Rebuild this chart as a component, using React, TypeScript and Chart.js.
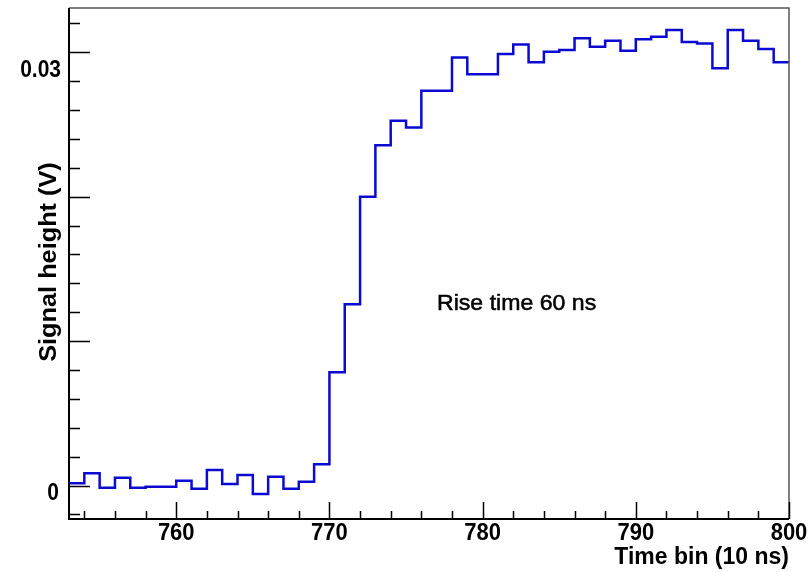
import React, { useEffect, useRef } from "react";
import { Chart, registerables } from "chart.js";

Chart.register(...registerables);

// Histogram: bin lower edges start at 753, width 1 (10 ns bins)
const binStart = 753;
const signal = [
  0.00015, 0.00084, -0.00015, 0.00054, -0.00015, -0.00008, -0.00008, 0.00033,
  -0.00022, 0.00107, 0.0001, 0.00073, -0.00059, 0.00061, -0.00022, 0.00026,
  0.00147, 0.00784, 0.01255, 0.02, 0.02357, 0.02526, 0.02479, 0.02734,
  0.02734, 0.02965, 0.02848, 0.02848, 0.02988, 0.03055, 0.02931, 0.03004,
  0.03016, 0.03097, 0.03039, 0.0308, 0.03011, 0.0309, 0.03108, 0.03154,
  0.03071, 0.03062, 0.02889, 0.03154, 0.0308, 0.03023, 0.02931,
];
const xMajorTicks = [760, 770, 780, 790, 800];
const yLabelValues = [0, 0.03];
const yLabelTexts = ["0", "0.03"];
const xTitle = "Time bin (10 ns)";
const yTitle = "Signal height (V)";
const annotation = "Rise time 60 ns";

const FONT = '"Liberation Sans", Arial, Helvetica, sans-serif';

function drawText(
  ctx: CanvasRenderingContext2D,
  text: string,
  x: number,
  y: number,
  font: string,
  align: CanvasTextAlign,
  sx: number,
  sy: number,
  rot = 0,
  strokeW = 0
) {
  ctx.save();
  ctx.translate(x, y);
  if (rot) ctx.rotate(rot);
  ctx.scale(sx, sy);
  ctx.font = font;
  ctx.fillStyle = "#000";
  ctx.textAlign = align;
  ctx.textBaseline = "middle";
  ctx.fillText(text, 0, 0);
  if (strokeW > 0) {
    ctx.strokeStyle = "#000";
    ctx.lineWidth = strokeW;
    ctx.strokeText(text, 0, 0);
  }
  ctx.restore();
}

const rootFrame = {
  id: "rootFrame",
  afterDraw(chart: any) {
    const ctx: CanvasRenderingContext2D = chart.ctx;
    const { left, right, top, bottom } = chart.chartArea;
    const xs = chart.scales.x;
    const ys = chart.scales.y;
    ctx.save();
    // top & right frame
    ctx.strokeStyle = "#555";
    ctx.lineWidth = 1.5;
    ctx.beginPath();
    ctx.moveTo(left, top);
    ctx.lineTo(right, top);
    ctx.lineTo(right, bottom);
    ctx.stroke();
    // axes
    ctx.strokeStyle = "#000";
    ctx.lineWidth = 2;
    ctx.beginPath();
    ctx.moveTo(left, top);
    ctx.lineTo(left, bottom);
    ctx.lineTo(right, bottom);
    ctx.stroke();
    // y ticks
    ctx.lineWidth = 1.5;
    ctx.beginPath();
    for (let k = -1; k <= 16; k++) {
      const v = k * 0.002;
      const py = Math.round(ys.getPixelForValue(v)) + 0.5;
      const len = k % 5 === 0 ? 21 : 11;
      ctx.moveTo(left, py);
      ctx.lineTo(left + len, py);
    }
    // x ticks
    for (let t = 754; t <= 800; t += 2) {
      const px = Math.round(xs.getPixelForValue(t)) + 0.5;
      const len = t % 10 === 0 ? 17 : 8;
      ctx.moveTo(px, bottom);
      ctx.lineTo(px, bottom - len);
    }
    ctx.stroke();
    ctx.restore();

    // x tick labels
    xMajorTicks.forEach((t) => {
      drawText(ctx, String(t), xs.getPixelForValue(t), 533, `bold 22px ${FONT}`, "center", 1, 1.12);
    });
    // y tick labels (ROOT-style offsets)
    drawText(ctx, yLabelTexts[0], 59, ys.getPixelForValue(yLabelValues[0]) + 8, `bold 21px ${FONT}`, "right", 1, 1.12);
    drawText(ctx, yLabelTexts[1], 61, ys.getPixelForValue(yLabelValues[1]) + 18, `bold 21px ${FONT}`, "right", 1, 1.12);
    // axis titles
    drawText(ctx, xTitle, 789, 557, `bold 23px ${FONT}`, "right", 1, 1.08);
    drawText(ctx, yTitle, 50, 262, `bold 23px ${FONT}`, "center", 1.1, 1, -Math.PI / 2);
    // annotation
    drawText(ctx, annotation, 437, 304, `21px ${FONT}`, "left", 1.1, 1.02, 0, 0.5);
  },
};

export default function App() {
  const ref = useRef<HTMLCanvasElement | null>(null);
  useEffect(() => {
    if (!ref.current) return;
    const points = signal.map((v, i) => ({ x: binStart + i, y: v }));
    points.push({ x: binStart + signal.length, y: signal[signal.length - 1] });
    const chart = new Chart(ref.current, {
      type: "line",
      data: {
        datasets: [
          {
            data: points,
            borderColor: "#0a0ad2",
            borderWidth: 2.5,
            pointRadius: 0,
            stepped: "before",
            fill: false,
            tension: 0,
          } as any,
        ],
      },
      options: {
        animation: false,
        responsive: false,
        devicePixelRatio: 1,
        layout: { padding: { left: 69, right: 21, top: 8, bottom: 53 } },
        scales: {
          x: { type: "linear", min: 753, max: 800, display: false },
          y: { type: "linear", min: -0.00232, max: 0.03307, display: false },
        },
        plugins: { legend: { display: false }, tooltip: { enabled: false } },
      },
      plugins: [rootFrame],
    });
    return () => chart.destroy();
  }, []);
  return (
    <div style={{ position: "absolute", left: 0, top: 0, width: 810, height: 572, background: "#fff" }}>
      <canvas ref={ref} width={810} height={572} />
    </div>
  );
}
